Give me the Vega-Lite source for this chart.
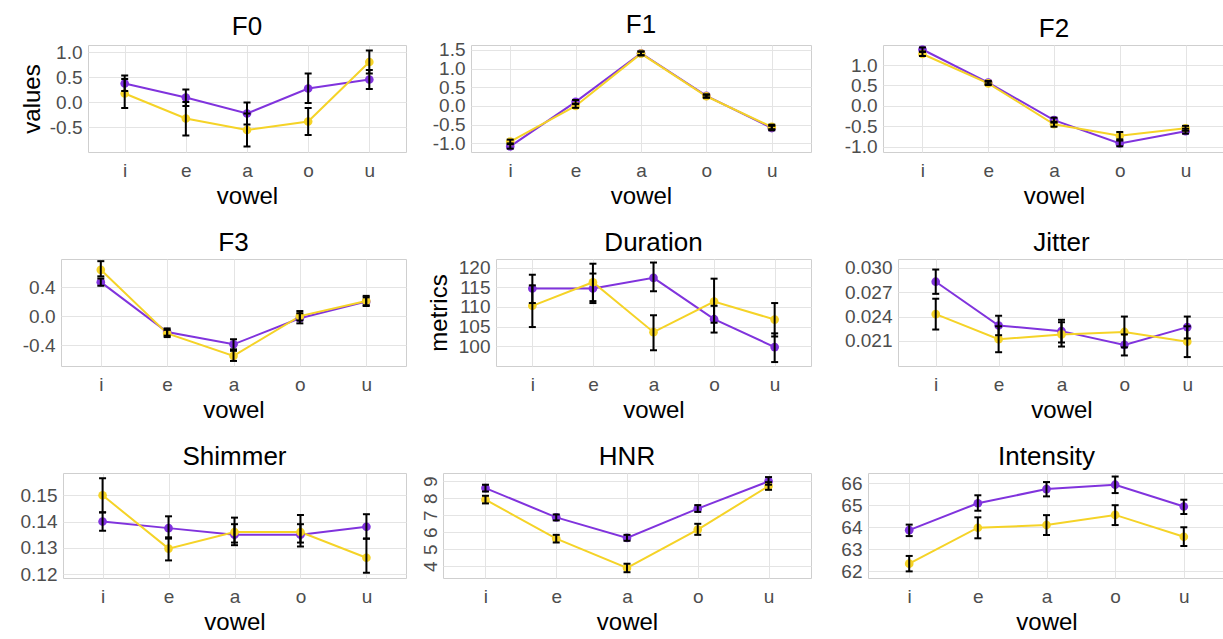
{
"$schema": "https://vega.github.io/schema/vega-lite/v6.json",
"padding": {"left": 9, "top": 11, "right": 3, "bottom": 0},
"background": "white",
"datasets": {"d": [
{"m":"F0","v":"i","g":"g1","y":0.37,"lo":0.22,"hi":0.53},{"m":"F0","v":"i","g":"g2","y":0.17,"lo":-0.12,"hi":0.46},
{"m":"F0","v":"e","g":"g1","y":0.09,"lo":-0.08,"hi":0.25},{"m":"F0","v":"e","g":"g2","y":-0.33,"lo":-0.67,"hi":0.0},
{"m":"F0","v":"a","g":"g1","y":-0.23,"lo":-0.45,"hi":-0.01},{"m":"F0","v":"a","g":"g2","y":-0.56,"lo":-0.89,"hi":-0.23},
{"m":"F0","v":"o","g":"g1","y":0.27,"lo":-0.02,"hi":0.57},{"m":"F0","v":"o","g":"g2","y":-0.39,"lo":-0.66,"hi":-0.12},
{"m":"F0","v":"u","g":"g1","y":0.45,"lo":0.26,"hi":0.64},{"m":"F0","v":"u","g":"g2","y":0.80,"lo":0.57,"hi":1.03},
{"m":"F1","v":"i","g":"g1","y":-1.08,"lo":-1.14,"hi":-1.02},{"m":"F1","v":"i","g":"g2","y":-0.95,"lo":-1.0,"hi":-0.9},
{"m":"F1","v":"e","g":"g1","y":0.11,"lo":0.06,"hi":0.16},{"m":"F1","v":"e","g":"g2","y":0.0,"lo":-0.05,"hi":0.05},
{"m":"F1","v":"a","g":"g1","y":1.41,"lo":1.36,"hi":1.46},{"m":"F1","v":"a","g":"g2","y":1.40,"lo":1.35,"hi":1.45},
{"m":"F1","v":"o","g":"g1","y":0.27,"lo":0.23,"hi":0.31},{"m":"F1","v":"o","g":"g2","y":0.26,"lo":0.22,"hi":0.30},
{"m":"F1","v":"u","g":"g1","y":-0.59,"lo":-0.65,"hi":-0.53},{"m":"F1","v":"u","g":"g2","y":-0.56,"lo":-0.62,"hi":-0.50},
{"m":"F2","v":"i","g":"g1","y":1.38,"lo":1.33,"hi":1.43},{"m":"F2","v":"i","g":"g2","y":1.27,"lo":1.22,"hi":1.32},
{"m":"F2","v":"e","g":"g1","y":0.57,"lo":0.53,"hi":0.61},{"m":"F2","v":"e","g":"g2","y":0.55,"lo":0.51,"hi":0.59},
{"m":"F2","v":"a","g":"g1","y":-0.35,"lo":-0.41,"hi":-0.29},{"m":"F2","v":"a","g":"g2","y":-0.45,"lo":-0.51,"hi":-0.39},
{"m":"F2","v":"o","g":"g1","y":-0.92,"lo":-0.99,"hi":-0.85},{"m":"F2","v":"o","g":"g2","y":-0.73,"lo":-0.82,"hi":-0.64},
{"m":"F2","v":"u","g":"g1","y":-0.62,"lo":-0.68,"hi":-0.56},{"m":"F2","v":"u","g":"g2","y":-0.55,"lo":-0.61,"hi":-0.49},
{"m":"F3","v":"i","g":"g1","y":0.47,"lo":0.42,"hi":0.52},{"m":"F3","v":"i","g":"g2","y":0.64,"lo":0.55,"hi":0.76},
{"m":"F3","v":"e","g":"g1","y":-0.22,"lo":-0.27,"hi":-0.17},{"m":"F3","v":"e","g":"g2","y":-0.24,"lo":-0.29,"hi":-0.19},
{"m":"F3","v":"a","g":"g1","y":-0.39,"lo":-0.46,"hi":-0.32},{"m":"F3","v":"a","g":"g2","y":-0.55,"lo":-0.62,"hi":-0.48},
{"m":"F3","v":"o","g":"g1","y":-0.03,"lo":-0.10,"hi":0.04},{"m":"F3","v":"o","g":"g2","y":0.0,"lo":-0.06,"hi":0.07},
{"m":"F3","v":"u","g":"g1","y":0.20,"lo":0.14,"hi":0.26},{"m":"F3","v":"u","g":"g2","y":0.21,"lo":0.15,"hi":0.28},
{"m":"Duration","v":"i","g":"g1","y":114.7,"lo":111.0,"hi":118.2},{"m":"Duration","v":"i","g":"g2","y":110.3,"lo":104.9,"hi":115.5},
{"m":"Duration","v":"e","g":"g1","y":114.7,"lo":111.0,"hi":118.5},{"m":"Duration","v":"e","g":"g2","y":116.3,"lo":111.5,"hi":121.0},
{"m":"Duration","v":"a","g":"g1","y":117.4,"lo":114.0,"hi":121.3},{"m":"Duration","v":"a","g":"g2","y":103.6,"lo":99.0,"hi":107.9},
{"m":"Duration","v":"o","g":"g1","y":106.9,"lo":103.5,"hi":110.3},{"m":"Duration","v":"o","g":"g2","y":111.4,"lo":106.0,"hi":117.2},
{"m":"Duration","v":"u","g":"g1","y":99.8,"lo":96.0,"hi":103.3},{"m":"Duration","v":"u","g":"g2","y":106.8,"lo":102.5,"hi":111.0},
{"m":"Jitter","v":"i","g":"g1","y":0.0283,"lo":0.0268,"hi":0.0298},{"m":"Jitter","v":"i","g":"g2","y":0.0243,"lo":0.0224,"hi":0.0262},
{"m":"Jitter","v":"e","g":"g1","y":0.0229,"lo":0.0217,"hi":0.0241},{"m":"Jitter","v":"e","g":"g2","y":0.0212,"lo":0.0196,"hi":0.0228},
{"m":"Jitter","v":"a","g":"g1","y":0.0222,"lo":0.0208,"hi":0.0236},{"m":"Jitter","v":"a","g":"g2","y":0.0218,"lo":0.0203,"hi":0.0233},
{"m":"Jitter","v":"o","g":"g1","y":0.0205,"lo":0.0192,"hi":0.0218},{"m":"Jitter","v":"o","g":"g2","y":0.0221,"lo":0.0202,"hi":0.0240},
{"m":"Jitter","v":"u","g":"g1","y":0.0227,"lo":0.0213,"hi":0.0240},{"m":"Jitter","v":"u","g":"g2","y":0.0209,"lo":0.0190,"hi":0.0228},
{"m":"Shimmer","v":"i","g":"g1","y":0.1400,"lo":0.1365,"hi":0.1435},{"m":"Shimmer","v":"i","g":"g2","y":0.1500,"lo":0.1435,"hi":0.1565},
{"m":"Shimmer","v":"e","g":"g1","y":0.1375,"lo":0.1335,"hi":0.1420},{"m":"Shimmer","v":"e","g":"g2","y":0.1297,"lo":0.1252,"hi":0.1340},
{"m":"Shimmer","v":"a","g":"g1","y":0.1350,"lo":0.1310,"hi":0.1390},{"m":"Shimmer","v":"a","g":"g2","y":0.1360,"lo":0.1320,"hi":0.1415},
{"m":"Shimmer","v":"o","g":"g1","y":0.1350,"lo":0.1305,"hi":0.1390},{"m":"Shimmer","v":"o","g":"g2","y":0.1360,"lo":0.1320,"hi":0.1425},
{"m":"Shimmer","v":"u","g":"g1","y":0.1380,"lo":0.1335,"hi":0.1428},{"m":"Shimmer","v":"u","g":"g2","y":0.1262,"lo":0.1205,"hi":0.1335},
{"m":"HNR","v":"i","g":"g1","y":8.6,"lo":8.4,"hi":8.8},{"m":"HNR","v":"i","g":"g2","y":7.92,"lo":7.7,"hi":8.15},
{"m":"HNR","v":"e","g":"g1","y":6.88,"lo":6.7,"hi":7.05},{"m":"HNR","v":"e","g":"g2","y":5.63,"lo":5.4,"hi":5.85},
{"m":"HNR","v":"a","g":"g1","y":5.67,"lo":5.5,"hi":5.85},{"m":"HNR","v":"a","g":"g2","y":3.9,"lo":3.65,"hi":4.15},
{"m":"HNR","v":"o","g":"g1","y":7.39,"lo":7.2,"hi":7.6},{"m":"HNR","v":"o","g":"g2","y":6.16,"lo":5.85,"hi":6.5},
{"m":"HNR","v":"u","g":"g1","y":9.0,"lo":8.8,"hi":9.25},{"m":"HNR","v":"u","g":"g2","y":8.72,"lo":8.5,"hi":8.95},
{"m":"Intensity","v":"i","g":"g1","y":63.87,"lo":63.6,"hi":64.12},{"m":"Intensity","v":"i","g":"g2","y":62.35,"lo":62.0,"hi":62.7},
{"m":"Intensity","v":"e","g":"g1","y":65.09,"lo":64.75,"hi":65.45},{"m":"Intensity","v":"e","g":"g2","y":63.98,"lo":63.5,"hi":64.45},
{"m":"Intensity","v":"a","g":"g1","y":65.73,"lo":65.4,"hi":66.05},{"m":"Intensity","v":"a","g":"g2","y":64.1,"lo":63.65,"hi":64.55},
{"m":"Intensity","v":"o","g":"g1","y":65.93,"lo":65.55,"hi":66.3},{"m":"Intensity","v":"o","g":"g2","y":64.56,"lo":64.1,"hi":65.0},
{"m":"Intensity","v":"u","g":"g1","y":64.94,"lo":64.6,"hi":65.25},{"m":"Intensity","v":"u","g":"g2","y":63.57,"lo":63.15,"hi":64.0}
]},
"data": {"name": "d"},
"spacing": 20,
"vconcat": [
{"spacing": 0, "hconcat": [
{"width": 1, "height": 1, "transform": [{"filter": "false"}], "mark": {"type": "point", "opacity": 0}, "encoding": {}, "view": {"stroke": null}},
{"title": "F0", "width": 318, "height": 107, "transform": [{"filter": {"field": "m", "equal": "F0"}}],
 "encoding": {"x": {"field": "v", "type": "nominal", "sort": ["i","e","a","o","u"], "scale": {"type": "point", "padding": 0.6}, "axis": {"title": "vowel"}}},
 "resolve": {"axis": {"y": "independent"}},
 "layer": [
  {"mark": {"type": "line", "strokeWidth": 2}, "encoding": {"y": {"field": "y", "type": "quantitative", "scale": {"domain": [-1.0, 1.14], "nice": false, "zero": false}, "axis": {"orient": "left", "values": [-0.5,0,0.5,1], "format": ".1f", "title": "values", "titleX": -56, "titleY": 53.5, "titleAngle": 270, "titleBaseline": "middle", "titleAlign": "center", "minExtent": 77, "maxExtent": 77}}, "color": {"field": "g", "type": "nominal", "scale": {"domain": ["g1","g2"], "range": ["#8033dd","#f5d327"]}, "legend": null}}},
  {"mark": {"type": "point", "filled": true, "size": 75, "opacity": 1}, "encoding": {"y": {"field": "y", "type": "quantitative", "scale": {"domain": [-1.0, 1.14], "nice": false, "zero": false}, "axis": {"orient": "right", "values": [-0.75,-0.25,0.25,0.75], "gridColor": "#f1f1f1", "labels": false, "title": null, "minExtent": 0, "maxExtent": 0}}, "color": {"field": "g", "type": "nominal", "scale": {"domain": ["g1","g2"], "range": ["#8033dd","#f5d327"]}, "legend": null}}},
  {"mark": {"type": "rule", "strokeWidth": 2, "color": "black"}, "encoding": {"y": {"field": "lo", "type": "quantitative", "scale": {"domain": [-1.0, 1.14], "nice": false, "zero": false}, "axis": null}, "y2": {"field": "hi"}}},
  {"mark": {"type": "tick", "thickness": 2, "size": 7, "color": "black", "opacity": 1}, "encoding": {"y": {"field": "lo", "type": "quantitative", "scale": {"domain": [-1.0, 1.14], "nice": false, "zero": false}, "axis": null}}},
  {"mark": {"type": "tick", "thickness": 2, "size": 7, "color": "black", "opacity": 1}, "encoding": {"y": {"field": "hi", "type": "quantitative", "scale": {"domain": [-1.0, 1.14], "nice": false, "zero": false}, "axis": null}}}
 ]},
{"title": "F1", "width": 340, "height": 107, "transform": [{"filter": {"field": "m", "equal": "F1"}}],
 "encoding": {"x": {"field": "v", "type": "nominal", "sort": ["i","e","a","o","u"], "scale": {"type": "point", "padding": 0.6}, "axis": {"title": "vowel"}}},
 "resolve": {"axis": {"y": "independent"}},
 "layer": [
  {"mark": {"type": "line", "strokeWidth": 2}, "encoding": {"y": {"field": "y", "type": "quantitative", "scale": {"domain": [-1.23, 1.63], "nice": false, "zero": false}, "axis": {"orient": "left", "values": [-1,-0.5,0,0.5,1,1.5], "format": ".1f", "title": null, "minExtent": 63, "maxExtent": 63}}, "color": {"field": "g", "type": "nominal", "scale": {"domain": ["g1","g2"], "range": ["#8033dd","#f5d327"]}, "legend": null}}},
  {"mark": {"type": "point", "filled": true, "size": 75, "opacity": 1}, "encoding": {"y": {"field": "y", "type": "quantitative", "scale": {"domain": [-1.23, 1.63], "nice": false, "zero": false}, "axis": {"orient": "right", "values": [-0.75,-0.25,0.25,0.75,1.25], "gridColor": "#f1f1f1", "labels": false, "title": null, "minExtent": 0, "maxExtent": 0}}, "color": {"field": "g", "type": "nominal", "scale": {"domain": ["g1","g2"], "range": ["#8033dd","#f5d327"]}, "legend": null}}},
  {"mark": {"type": "rule", "strokeWidth": 2, "color": "black"}, "encoding": {"y": {"field": "lo", "type": "quantitative", "scale": {"domain": [-1.23, 1.63], "nice": false, "zero": false}, "axis": null}, "y2": {"field": "hi"}}},
  {"mark": {"type": "tick", "thickness": 2, "size": 7, "color": "black", "opacity": 1}, "encoding": {"y": {"field": "lo", "type": "quantitative", "scale": {"domain": [-1.23, 1.63], "nice": false, "zero": false}, "axis": null}}},
  {"mark": {"type": "tick", "thickness": 2, "size": 7, "color": "black", "opacity": 1}, "encoding": {"y": {"field": "hi", "type": "quantitative", "scale": {"domain": [-1.23, 1.63], "nice": false, "zero": false}, "axis": null}}}
 ]},
{"title": "F2", "width": 342, "height": 107, "transform": [{"filter": {"field": "m", "equal": "F2"}}],
 "encoding": {"x": {"field": "v", "type": "nominal", "sort": ["i","e","a","o","u"], "scale": {"type": "point", "padding": 0.6}, "axis": {"title": "vowel"}}},
 "resolve": {"axis": {"y": "independent"}},
 "layer": [
  {"mark": {"type": "line", "strokeWidth": 2}, "encoding": {"y": {"field": "y", "type": "quantitative", "scale": {"domain": [-1.13, 1.49], "nice": false, "zero": false}, "axis": {"orient": "left", "values": [-1,-0.5,0,0.5,1], "format": ".1f", "title": null, "minExtent": 70, "maxExtent": 70}}, "color": {"field": "g", "type": "nominal", "scale": {"domain": ["g1","g2"], "range": ["#8033dd","#f5d327"]}, "legend": null}}},
  {"mark": {"type": "point", "filled": true, "size": 75, "opacity": 1}, "encoding": {"y": {"field": "y", "type": "quantitative", "scale": {"domain": [-1.13, 1.49], "nice": false, "zero": false}, "axis": {"orient": "right", "values": [-0.75,-0.25,0.25,0.75,1.25], "gridColor": "#f1f1f1", "labels": false, "title": null, "minExtent": 0, "maxExtent": 0}}, "color": {"field": "g", "type": "nominal", "scale": {"domain": ["g1","g2"], "range": ["#8033dd","#f5d327"]}, "legend": null}}},
  {"mark": {"type": "rule", "strokeWidth": 2, "color": "black"}, "encoding": {"y": {"field": "lo", "type": "quantitative", "scale": {"domain": [-1.13, 1.49], "nice": false, "zero": false}, "axis": null}, "y2": {"field": "hi"}}},
  {"mark": {"type": "tick", "thickness": 2, "size": 7, "color": "black", "opacity": 1}, "encoding": {"y": {"field": "lo", "type": "quantitative", "scale": {"domain": [-1.13, 1.49], "nice": false, "zero": false}, "axis": null}}},
  {"mark": {"type": "tick", "thickness": 2, "size": 7, "color": "black", "opacity": 1}, "encoding": {"y": {"field": "hi", "type": "quantitative", "scale": {"domain": [-1.13, 1.49], "nice": false, "zero": false}, "axis": null}}}
 ]}
]},
{"spacing": 0, "hconcat": [
{"width": 1, "height": 1, "transform": [{"filter": "false"}], "mark": {"type": "point", "opacity": 0}, "encoding": {}, "view": {"stroke": null}},
{"title": "F3", "width": 345, "height": 107, "transform": [{"filter": {"field": "m", "equal": "F3"}}],
 "encoding": {"x": {"field": "v", "type": "nominal", "sort": ["i","e","a","o","u"], "scale": {"type": "point", "padding": 0.6}, "axis": {"title": "vowel"}}},
 "resolve": {"axis": {"y": "independent"}},
 "layer": [
  {"mark": {"type": "line", "strokeWidth": 2}, "encoding": {"y": {"field": "y", "type": "quantitative", "scale": {"domain": [-0.69, 0.79], "nice": false, "zero": false}, "axis": {"orient": "left", "values": [-0.4,0,0.4], "format": ".1f", "title": null, "minExtent": 50, "maxExtent": 50}}, "color": {"field": "g", "type": "nominal", "scale": {"domain": ["g1","g2"], "range": ["#8033dd","#f5d327"]}, "legend": null}}},
  {"mark": {"type": "point", "filled": true, "size": 75, "opacity": 1}, "encoding": {"y": {"field": "y", "type": "quantitative", "scale": {"domain": [-0.69, 0.79], "nice": false, "zero": false}, "axis": {"orient": "right", "values": [-0.6,-0.2,0.2,0.6], "gridColor": "#f1f1f1", "labels": false, "title": null, "minExtent": 0, "maxExtent": 0}}, "color": {"field": "g", "type": "nominal", "scale": {"domain": ["g1","g2"], "range": ["#8033dd","#f5d327"]}, "legend": null}}},
  {"mark": {"type": "rule", "strokeWidth": 2, "color": "black"}, "encoding": {"y": {"field": "lo", "type": "quantitative", "scale": {"domain": [-0.69, 0.79], "nice": false, "zero": false}, "axis": null}, "y2": {"field": "hi"}}},
  {"mark": {"type": "tick", "thickness": 2, "size": 7, "color": "black", "opacity": 1}, "encoding": {"y": {"field": "lo", "type": "quantitative", "scale": {"domain": [-0.69, 0.79], "nice": false, "zero": false}, "axis": null}}},
  {"mark": {"type": "tick", "thickness": 2, "size": 7, "color": "black", "opacity": 1}, "encoding": {"y": {"field": "hi", "type": "quantitative", "scale": {"domain": [-0.69, 0.79], "nice": false, "zero": false}, "axis": null}}}
 ]},
{"title": "Duration", "width": 315, "height": 107, "transform": [{"filter": {"field": "m", "equal": "Duration"}}],
 "encoding": {"x": {"field": "v", "type": "nominal", "sort": ["i","e","a","o","u"], "scale": {"type": "point", "padding": 0.6}, "axis": {"title": "vowel"}}},
 "resolve": {"axis": {"y": "independent"}},
 "layer": [
  {"mark": {"type": "line", "strokeWidth": 2}, "encoding": {"y": {"field": "y", "type": "quantitative", "scale": {"domain": [95, 122.2], "nice": false, "zero": false}, "axis": {"orient": "left", "values": [100,105,110,115,120], "format": "d", "title": "metrics", "titleX": -57, "titleY": 53.5, "titleAngle": 270, "titleBaseline": "middle", "titleAlign": "center", "minExtent": 88, "maxExtent": 88}}, "color": {"field": "g", "type": "nominal", "scale": {"domain": ["g1","g2"], "range": ["#8033dd","#f5d327"]}, "legend": null}}},
  {"mark": {"type": "point", "filled": true, "size": 75, "opacity": 1}, "encoding": {"y": {"field": "y", "type": "quantitative", "scale": {"domain": [95, 122.2], "nice": false, "zero": false}, "axis": {"orient": "right", "values": [97.5,102.5,107.5,112.5,117.5], "gridColor": "#f1f1f1", "labels": false, "title": null, "minExtent": 0, "maxExtent": 0}}, "color": {"field": "g", "type": "nominal", "scale": {"domain": ["g1","g2"], "range": ["#8033dd","#f5d327"]}, "legend": null}}},
  {"mark": {"type": "rule", "strokeWidth": 2, "color": "black"}, "encoding": {"y": {"field": "lo", "type": "quantitative", "scale": {"domain": [95, 122.2], "nice": false, "zero": false}, "axis": null}, "y2": {"field": "hi"}}},
  {"mark": {"type": "tick", "thickness": 2, "size": 7, "color": "black", "opacity": 1}, "encoding": {"y": {"field": "lo", "type": "quantitative", "scale": {"domain": [95, 122.2], "nice": false, "zero": false}, "axis": null}}},
  {"mark": {"type": "tick", "thickness": 2, "size": 7, "color": "black", "opacity": 1}, "encoding": {"y": {"field": "hi", "type": "quantitative", "scale": {"domain": [95, 122.2], "nice": false, "zero": false}, "axis": null}}}
 ]},
{"title": "Jitter", "width": 327, "height": 107, "transform": [{"filter": {"field": "m", "equal": "Jitter"}}],
 "encoding": {"x": {"field": "v", "type": "nominal", "sort": ["i","e","a","o","u"], "scale": {"type": "point", "padding": 0.6}, "axis": {"title": "vowel"}}},
 "resolve": {"axis": {"y": "independent"}},
 "layer": [
  {"mark": {"type": "line", "strokeWidth": 2}, "encoding": {"y": {"field": "y", "type": "quantitative", "scale": {"domain": [0.0179, 0.0311], "nice": false, "zero": false}, "axis": {"orient": "left", "values": [0.021,0.024,0.027,0.030], "format": ".3f", "title": null, "minExtent": 85, "maxExtent": 85}}, "color": {"field": "g", "type": "nominal", "scale": {"domain": ["g1","g2"], "range": ["#8033dd","#f5d327"]}, "legend": null}}},
  {"mark": {"type": "point", "filled": true, "size": 75, "opacity": 1}, "encoding": {"y": {"field": "y", "type": "quantitative", "scale": {"domain": [0.0179, 0.0311], "nice": false, "zero": false}, "axis": {"orient": "right", "values": [0.0195,0.0225,0.0255,0.0285], "gridColor": "#f1f1f1", "labels": false, "title": null, "minExtent": 0, "maxExtent": 0}}, "color": {"field": "g", "type": "nominal", "scale": {"domain": ["g1","g2"], "range": ["#8033dd","#f5d327"]}, "legend": null}}},
  {"mark": {"type": "rule", "strokeWidth": 2, "color": "black"}, "encoding": {"y": {"field": "lo", "type": "quantitative", "scale": {"domain": [0.0179, 0.0311], "nice": false, "zero": false}, "axis": null}, "y2": {"field": "hi"}}},
  {"mark": {"type": "tick", "thickness": 2, "size": 7, "color": "black", "opacity": 1}, "encoding": {"y": {"field": "lo", "type": "quantitative", "scale": {"domain": [0.0179, 0.0311], "nice": false, "zero": false}, "axis": null}}},
  {"mark": {"type": "tick", "thickness": 2, "size": 7, "color": "black", "opacity": 1}, "encoding": {"y": {"field": "hi", "type": "quantitative", "scale": {"domain": [0.0179, 0.0311], "nice": false, "zero": false}, "axis": null}}}
 ]}
]},
{"spacing": 0, "hconcat": [
{"width": 1, "height": 1, "transform": [{"filter": "false"}], "mark": {"type": "point", "opacity": 0}, "encoding": {}, "view": {"stroke": null}},
{"title": "Shimmer", "width": 343, "height": 105, "transform": [{"filter": {"field": "m", "equal": "Shimmer"}}],
 "encoding": {"x": {"field": "v", "type": "nominal", "sort": ["i","e","a","o","u"], "scale": {"type": "point", "padding": 0.6}, "axis": {"title": "vowel"}}},
 "resolve": {"axis": {"y": "independent"}},
 "layer": [
  {"mark": {"type": "line", "strokeWidth": 2}, "encoding": {"y": {"field": "y", "type": "quantitative", "scale": {"domain": [0.1185, 0.1585], "nice": false, "zero": false}, "axis": {"orient": "left", "values": [0.12,0.13,0.14,0.15], "format": ".2f", "title": null, "minExtent": 52, "maxExtent": 52}}, "color": {"field": "g", "type": "nominal", "scale": {"domain": ["g1","g2"], "range": ["#8033dd","#f5d327"]}, "legend": null}}},
  {"mark": {"type": "point", "filled": true, "size": 75, "opacity": 1}, "encoding": {"y": {"field": "y", "type": "quantitative", "scale": {"domain": [0.1185, 0.1585], "nice": false, "zero": false}, "axis": {"orient": "right", "values": [0.125,0.135,0.145,0.155], "gridColor": "#f1f1f1", "labels": false, "title": null, "minExtent": 0, "maxExtent": 0}}, "color": {"field": "g", "type": "nominal", "scale": {"domain": ["g1","g2"], "range": ["#8033dd","#f5d327"]}, "legend": null}}},
  {"mark": {"type": "rule", "strokeWidth": 2, "color": "black"}, "encoding": {"y": {"field": "lo", "type": "quantitative", "scale": {"domain": [0.1185, 0.1585], "nice": false, "zero": false}, "axis": null}, "y2": {"field": "hi"}}},
  {"mark": {"type": "tick", "thickness": 2, "size": 7, "color": "black", "opacity": 1}, "encoding": {"y": {"field": "lo", "type": "quantitative", "scale": {"domain": [0.1185, 0.1585], "nice": false, "zero": false}, "axis": null}}},
  {"mark": {"type": "tick", "thickness": 2, "size": 7, "color": "black", "opacity": 1}, "encoding": {"y": {"field": "hi", "type": "quantitative", "scale": {"domain": [0.1185, 0.1585], "nice": false, "zero": false}, "axis": null}}}
 ]},
{"title": "HNR", "width": 368, "height": 105, "transform": [{"filter": {"field": "m", "equal": "HNR"}}],
 "encoding": {"x": {"field": "v", "type": "nominal", "sort": ["i","e","a","o","u"], "scale": {"type": "point", "padding": 0.6}, "axis": {"title": "vowel"}}},
 "resolve": {"axis": {"y": "independent"}},
 "layer": [
  {"mark": {"type": "line", "strokeWidth": 2}, "encoding": {"y": {"field": "y", "type": "quantitative", "scale": {"domain": [3.31, 9.49], "nice": false, "zero": false}, "axis": {"orient": "left", "values": [4,5,6,7,8,9], "format": "d", "labelAngle": 270, "labelPadding": 3, "title": null, "minExtent": 35, "maxExtent": 35}}, "color": {"field": "g", "type": "nominal", "scale": {"domain": ["g1","g2"], "range": ["#8033dd","#f5d327"]}, "legend": null}}},
  {"mark": {"type": "point", "filled": true, "size": 75, "opacity": 1}, "encoding": {"y": {"field": "y", "type": "quantitative", "scale": {"domain": [3.31, 9.49], "nice": false, "zero": false}, "axis": {"orient": "right", "values": [3.5,4.5,5.5,6.5,7.5,8.5], "gridColor": "#f1f1f1", "labels": false, "title": null, "minExtent": 0, "maxExtent": 0}}, "color": {"field": "g", "type": "nominal", "scale": {"domain": ["g1","g2"], "range": ["#8033dd","#f5d327"]}, "legend": null}}},
  {"mark": {"type": "rule", "strokeWidth": 2, "color": "black"}, "encoding": {"y": {"field": "lo", "type": "quantitative", "scale": {"domain": [3.31, 9.49], "nice": false, "zero": false}, "axis": null}, "y2": {"field": "hi"}}},
  {"mark": {"type": "tick", "thickness": 2, "size": 7, "color": "black", "opacity": 1}, "encoding": {"y": {"field": "lo", "type": "quantitative", "scale": {"domain": [3.31, 9.49], "nice": false, "zero": false}, "axis": null}}},
  {"mark": {"type": "tick", "thickness": 2, "size": 7, "color": "black", "opacity": 1}, "encoding": {"y": {"field": "hi", "type": "quantitative", "scale": {"domain": [3.31, 9.49], "nice": false, "zero": false}, "axis": null}}}
 ]},
{"title": "Intensity", "width": 357, "height": 105, "transform": [{"filter": {"field": "m", "equal": "Intensity"}}],
 "encoding": {"x": {"field": "v", "type": "nominal", "sort": ["i","e","a","o","u"], "scale": {"type": "point", "padding": 0.6}, "axis": {"title": "vowel"}}},
 "resolve": {"axis": {"y": "independent"}},
 "layer": [
  {"mark": {"type": "line", "strokeWidth": 2}, "encoding": {"y": {"field": "y", "type": "quantitative", "scale": {"domain": [61.7, 66.46], "nice": false, "zero": false}, "axis": {"orient": "left", "values": [62,63,64,65,66], "format": "d", "title": null, "minExtent": 55, "maxExtent": 55}}, "color": {"field": "g", "type": "nominal", "scale": {"domain": ["g1","g2"], "range": ["#8033dd","#f5d327"]}, "legend": null}}},
  {"mark": {"type": "point", "filled": true, "size": 75, "opacity": 1}, "encoding": {"y": {"field": "y", "type": "quantitative", "scale": {"domain": [61.7, 66.46], "nice": false, "zero": false}, "axis": {"orient": "right", "values": [62.5,63.5,64.5,65.5], "gridColor": "#f1f1f1", "labels": false, "title": null, "minExtent": 0, "maxExtent": 0}}, "color": {"field": "g", "type": "nominal", "scale": {"domain": ["g1","g2"], "range": ["#8033dd","#f5d327"]}, "legend": null}}},
  {"mark": {"type": "rule", "strokeWidth": 2, "color": "black"}, "encoding": {"y": {"field": "lo", "type": "quantitative", "scale": {"domain": [61.7, 66.46], "nice": false, "zero": false}, "axis": null}, "y2": {"field": "hi"}}},
  {"mark": {"type": "tick", "thickness": 2, "size": 7, "color": "black", "opacity": 1}, "encoding": {"y": {"field": "lo", "type": "quantitative", "scale": {"domain": [61.7, 66.46], "nice": false, "zero": false}, "axis": null}}},
  {"mark": {"type": "tick", "thickness": 2, "size": 7, "color": "black", "opacity": 1}, "encoding": {"y": {"field": "hi", "type": "quantitative", "scale": {"domain": [61.7, 66.46], "nice": false, "zero": false}, "axis": null}}}
 ]}
]}
],
"config": {
 "font": "Liberation Sans",
 "locale": {"number": {"decimal": ".", "thousands": ",", "grouping": [3], "currency": ["$", ""], "minus": "-"}},
 "view": {"stroke": "#cfcfcf", "strokeWidth": 1},
 "title": {"fontSize": 26, "fontWeight": "normal", "color": "#000000", "anchor": "middle", "frame": "group", "offset": 3},
 "axis": {"labelFontSize": 19, "labelColor": "#4d4d4d", "titleFontSize": 24, "titleFontWeight": "normal", "titleColor": "#000000", "grid": true, "gridColor": "#e4e4e4", "gridWidth": 1, "domain": false, "ticks": false, "labelPadding": 6, "labelOverlap": false, "labelFlush": false},
 "axisX": {"labelAngle": 0, "labelPadding": 9, "titlePadding": 8, "minExtent": 24, "maxExtent": 24}
}
}
